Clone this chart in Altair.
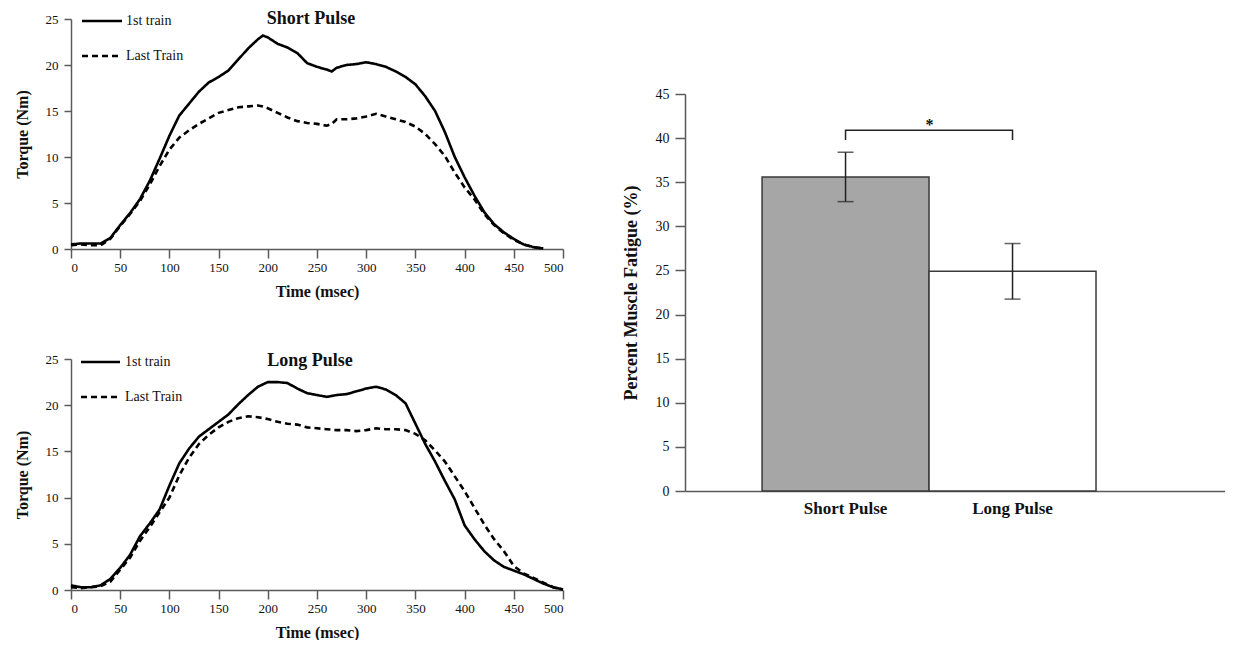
import altair as alt
import pandas as pd

FONT = "Liberation Serif"
AX = "#5a5a5a"
INK = "#111111"

series_names = ["1st train", "Last Train"]

# ---- Short pulse torque traces ----
t_short = [0, 10, 20, 30, 40, 50, 60, 70, 80, 90, 100, 110, 120, 130, 140, 150, 160, 170, 180, 190,
           195, 200, 210, 220, 230, 240, 250, 260, 265, 270, 280, 290, 300, 310, 320, 330, 340, 350,
           360, 370, 380, 390, 400, 410, 420, 430, 440, 450, 460, 470, 480]
short_first = [0.5, 0.6, 0.6, 0.6, 1.2, 2.6, 3.9, 5.4, 7.4, 9.8, 12.3, 14.5, 15.8, 17.1, 18.1, 18.7, 19.4,
               20.6, 21.8, 22.8, 23.2, 23.0, 22.3, 21.9, 21.3, 20.2, 19.8, 19.5, 19.3, 19.7, 20.0, 20.1,
               20.3, 20.1, 19.8, 19.3, 18.7, 17.9, 16.6, 15.0, 12.7, 10.0, 7.8, 5.8, 4.0, 2.7, 1.8, 1.1,
               0.5, 0.2, 0.05]
short_last = [0.4, 0.5, 0.4, 0.4, 1.1, 2.5, 3.8, 5.2, 7.0, 9.0, 10.8, 12.1, 12.9, 13.6, 14.2, 14.8, 15.1,
              15.4, 15.5, 15.6, 15.5, 15.3, 14.8, 14.3, 13.9, 13.7, 13.6, 13.4, 13.6, 14.1, 14.1, 14.2,
              14.4, 14.7, 14.4, 14.1, 13.8, 13.3, 12.5, 11.4, 10.1, 8.3, 6.7, 5.4, 3.8, 2.6, 1.7, 1.0,
              0.5, 0.2, 0.05]

# ---- Long pulse torque traces ----
t_long = [0, 10, 20, 30, 40, 50, 60, 70, 80, 90, 100, 110, 120, 130, 140, 150, 160, 170, 180, 190, 200,
          210, 220, 230, 240, 250, 260, 270, 280, 290, 300, 310, 320, 330, 340, 350, 360, 370, 380, 390,
          400, 410, 420, 430, 440, 450, 460, 470, 480, 490, 500]
long_first = [0.5, 0.3, 0.3, 0.5, 1.2, 2.4, 3.8, 5.8, 7.2, 8.7, 11.3, 13.7, 15.3, 16.6, 17.4, 18.2, 19.0,
              20.1, 21.1, 22.0, 22.5, 22.5, 22.4, 21.8, 21.3, 21.1, 20.9, 21.1, 21.2, 21.5, 21.8, 22.0,
              21.7, 21.1, 20.2, 18.0, 15.8, 13.9, 11.8, 9.8, 7.0, 5.5, 4.2, 3.2, 2.5, 2.1, 1.7, 1.2, 0.7,
              0.3, 0.05]
long_last = [0.3, 0.2, 0.3, 0.4, 0.9, 2.2, 3.5, 5.3, 6.8, 8.4, 10.0, 12.4, 14.3, 15.8, 16.8, 17.6, 18.2,
             18.6, 18.8, 18.7, 18.5, 18.2, 18.0, 17.9, 17.6, 17.5, 17.4, 17.3, 17.3, 17.2, 17.3, 17.5,
             17.4, 17.4, 17.3, 16.9, 16.2, 15.1, 13.9, 12.3, 10.7, 8.9, 7.1, 5.5, 4.2, 2.6, 1.8, 1.3, 0.8,
             0.3, 0.05]

x_ticks = [0, 50, 100, 150, 200, 250, 300, 350, 400, 450, 500]
y_ticks = [0, 5, 10, 15, 20, 25]

# ---- Bar chart ----
conditions = ["Short Pulse", "Long Pulse"]
fatigue = [35.6, 24.9]
fatigue_err = [2.8, 3.15]
bar_fills = ["#a6a6a6", "#ffffff"]
bar_ticks = [0, 5, 10, 15, 20, 25, 30, 35, 40, 45]
bracket_level = 40.9
bracket_leg = 39.8
sig_mark = "*"


def torque_panel(t, first, last, title, w, h, leg):
    df = pd.DataFrame({
        "t": list(t) + list(t),
        "torque": list(first) + list(last),
        "series": [series_names[0]] * len(t) + [series_names[1]] * len(t),
    })
    x = alt.X("t:Q", scale=alt.Scale(domain=[0, 500], nice=False),
              axis=alt.Axis(values=x_ticks, title="Time (msec)", tickSize=9, labelPadding=3,
                            titlePadding=9, titleFontSize=16))
    y = alt.Y("torque:Q", scale=alt.Scale(domain=[0, 25], nice=False),
              axis=alt.Axis(values=y_ticks, title="Torque (Nm)", tickSize=7, labelPadding=6,
                            titlePadding=15, titleFontSize=16))
    lines = alt.Chart(df).mark_line(color="black", strokeWidth=2.6).encode(
        x=x, y=y,
        strokeDash=alt.StrokeDash("series:N", scale=alt.Scale(domain=series_names, range=[[1, 0], [6, 4]]),
                                  legend=None),
        detail="series:N",
    )
    layers = [lines]
    for i, name in enumerate(series_names):
        ly = leg["y"][i]
        d = pd.DataFrame({"label": [name]})
        rule = alt.Chart(d).mark_rule(color="black", strokeWidth=2.6,
                                      strokeDash=[1, 0] if i == 0 else [6, 4]).encode(
            x=alt.value(leg["x0"]), x2=alt.value(leg["x1"]), y=alt.value(ly))
        txt = alt.Chart(d).mark_text(align="left", baseline="middle", font=FONT, fontSize=14,
                                     color=INK).encode(
            x=alt.value(leg["tx"]), y=alt.value(ly), text="label:N")
        layers += [rule, txt]
    tdf = pd.DataFrame({"title": [title]})
    ttl = alt.Chart(tdf).mark_text(align="center", baseline="middle", font=FONT, fontSize=18,
                                   fontWeight="bold", color=INK).encode(
        x=alt.value(leg["ttx"]), y=alt.value(leg["tty"]), text="title:N")
    layers.append(ttl)
    return alt.layer(*layers).properties(width=w, height=h)


top = torque_panel(t_short, short_first, short_last, "Short Pulse", 492, 230,
                   {"x0": 11, "x1": 51, "tx": 55, "y": [2, 37], "ttx": 240, "tty": 0})
bottom = torque_panel(t_long, long_first, long_last, "Long Pulse", 492, 231,
                      {"x0": 10, "x1": 49, "tx": 54, "y": [3, 38], "ttx": 239, "tty": 2})

left = alt.vconcat(top, bottom, spacing=53)

bdf = pd.DataFrame({"cond": conditions, "fatigue": fatigue, "err": fatigue_err})
bx = alt.X("cond:N", sort=conditions,
           scale=alt.Scale(domain=conditions, paddingInner=0, paddingOuter=0.617, align=0.374),
           axis=alt.Axis(title=None, labelAngle=0, ticks=False, labelFontWeight="bold", labelFontSize=17,
                         labelPadding=9, labelColor=INK))
by_scale = alt.Scale(domain=[0, 45], nice=False)
by_axis = alt.Axis(values=bar_ticks, title="Percent Muscle Fatigue (%)", tickSize=10, labelPadding=6,
                   labelFontSize=14, titleFontSize=18, titlePadding=15)

bars = alt.Chart(bdf).mark_bar(stroke="#3a3a3a", strokeWidth=1.5).encode(
    x=bx,
    y=alt.Y("fatigue:Q", scale=by_scale, axis=by_axis),
    fill=alt.Fill("cond:N", scale=alt.Scale(domain=conditions, range=bar_fills), legend=None),
)
errbase = alt.Chart(bdf).transform_calculate(lo="datum.fatigue - datum.err", hi="datum.fatigue + datum.err")
err_rule = errbase.mark_rule(color="#222222", strokeWidth=1.5).encode(
    x=alt.X("cond:N", sort=conditions), y=alt.Y("lo:Q"), y2="hi:Q")
cap_lo = errbase.mark_tick(color="#222222", thickness=1.5, size=16).encode(
    x=alt.X("cond:N", sort=conditions), y=alt.Y("lo:Q"))
cap_hi = errbase.mark_tick(color="#222222", thickness=1.5, size=16).encode(
    x=alt.X("cond:N", sort=conditions), y=alt.Y("hi:Q"))

brdf = pd.DataFrame({
    "cond": [conditions[0], conditions[0], conditions[1], conditions[1]],
    "level": [bracket_leg, bracket_level, bracket_level, bracket_leg],
    "ord": [0, 1, 2, 3],
})
bracket = alt.Chart(brdf).mark_line(color="#222222", strokeWidth=1.5).encode(
    x=alt.X("cond:N", sort=conditions), y=alt.Y("level:Q"), order="ord:Q")
sdf = pd.DataFrame({"cond": [conditions[0]], "level": [bracket_level], "mark": [sig_mark]})
star = alt.Chart(sdf).mark_text(font=FONT, fontSize=16, fontWeight="bold", baseline="alphabetic",
                                dx=84, color=INK).encode(
    x=alt.X("cond:N", sort=conditions), y=alt.Y("level:Q"), text="mark:N")

bar_chart = alt.layer(bars, err_rule, cap_lo, cap_hi, bracket, star).properties(width=540, height=397)

spacer = alt.Chart(pd.DataFrame({"s": [0]})).mark_rule(strokeOpacity=0).encode(
    x=alt.value(0), y=alt.value(0), y2=alt.value(68)).properties(width=540, height=68)

right = alt.vconcat(spacer, bar_chart, spacing=0)

chart = alt.hconcat(left, right, spacing=53).properties(
    padding={"left": 6, "top": 2, "right": 0, "bottom": 0}
).configure_axis(
    grid=False, labelFont=FONT, titleFont=FONT, labelFontSize=13, labelColor=INK, titleColor=INK,
    titleFontWeight="bold", domainColor=AX, tickColor=AX, domainWidth=1.5, tickWidth=1.5,
).configure_view(stroke=None)

chart.save("out.html", embed_options={"renderer": "svg", "actions": False})
